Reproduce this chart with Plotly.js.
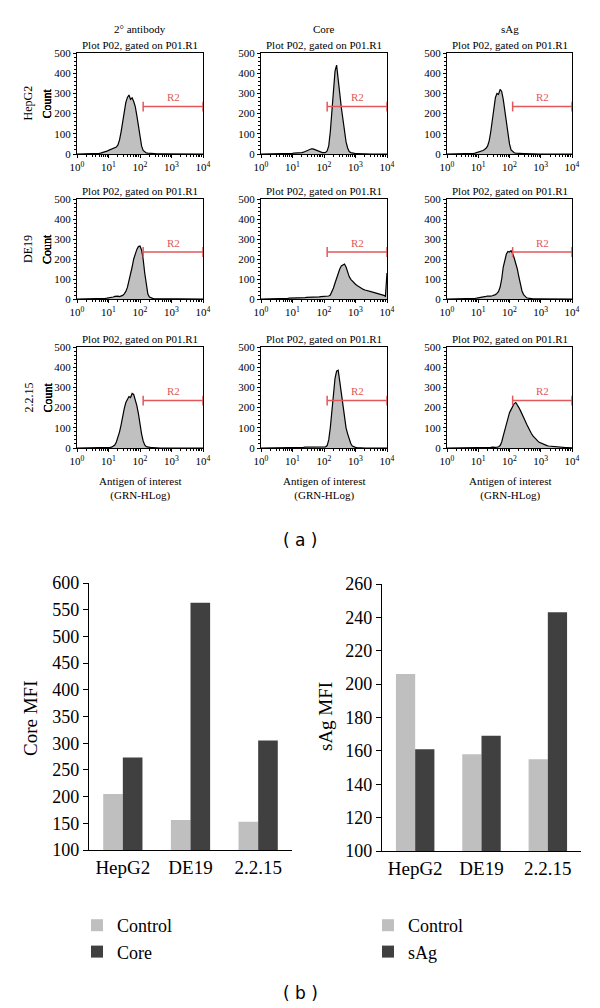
<!DOCTYPE html>
<html><head><meta charset="utf-8">
<script src="https://cdn.plot.ly/plotly-3.0.1.min.js"></script>
<style>html,body{margin:0;padding:0;background:#fff}</style>
</head><body><div id="chart" style="width:600px;height:1008px"></div>
<script>
// ---------- DATA ----------
const cellLines = ['HepG2', 'DE19', '2.2.15'];
const stains = ['2° antibody', 'Core', 'sAg'];
const panelTitle = 'Plot P02, gated on P01.R1';
const xTickVals = [1, 10, 100, 1000, 10000];
const xTickText = ['10<sup>0</sup>', '10<sup>1</sup>', '10<sup>2</sup>', '10<sup>3</sup>', '10<sup>4</sup>'];
// bin positions (log10 of fluorescence)
const histLog = [0,0.05,0.1,0.15,0.2,0.25,0.3,0.35,0.4,0.45,0.5,0.55,0.6,0.65,0.7,0.75,0.8,0.85,0.9,0.95,
 1,1.05,1.1,1.15,1.2,1.25,1.3,1.35,1.4,1.45,1.5,1.55,1.6,1.65,1.7,1.75,1.8,1.85,1.9,1.95,
 2,2.05,2.1,2.15,2.2,2.25,2.3,2.35,2.4,2.45,2.5,2.55,2.6,2.65,2.7,2.75,2.8,2.85,2.9,2.95,
 3,3.05,3.1,3.15,3.2,3.25,3.3,3.35,3.4,3.45,3.5,3.55,3.6,3.65,3.7,3.75,3.8,3.85,3.9,3.95,4];
const hepg2Secondary = [0,0,0,0,0,0,0,0,1,1, 1,1,2,2,3,4,6,8,10,14, 18,22,26,28,30,34,45,70,110,160,
 215,255,280,292,270,278,260,235,190,135, 80,40,18,9,5,4,3,3,2,2, 2,1,1,1,1,1,1,0,0,0,
 0,0,0,0,0,0,0,0,0,0, 0,0,0,0,0,0,0,0,0,0,0];
const hepg2Core = [0,0,0,0,0,0,0,0,0,0, 1,1,1,1,1,2,2,2,3,3, 3,4,4,5,5,6,7,9,12,16,
 20,24,26,25,22,18,14,10,8,7, 7,8,15,40,110,210,310,410,440,380, 300,230,170,110,60,30,12,7,4,3,
 2,2,1,1,1,1,1,0,0,0, 0,0,0,0,0,0,0,0,0,0,0];
const hepg2SAg = [0,0,0,0,0,0,0,0,0,0, 0,1,1,1,1,2,2,3,4,6, 8,10,13,17,22,28,40,65,110,175,
 235,280,300,295,320,310,270,215,150,95, 50,20,10,6,4,3,3,2,2,2, 2,1,1,1,1,1,0,0,0,0,
 0,0,0,0,0,0,0,0,0,0, 0,0,0,0,0,0,0,0,0,0,0];
const de19Secondary = [0,0,0,0,0,0,0,0,0,0, 1,1,1,1,2,2,2,3,3,4, 5,6,8,10,13,15,14,12,14,18,
 26,38,58,88,125,160,200,230,248,262, 265,245,200,130,65,25,10,5,3,2, 2,2,1,1,1,1,1,1,0,0,
 0,0,0,0,0,0,0,0,0,0, 0,0,0,0,0,0,0,0,0,0,0];
const de19Core = [0,0,0,1,1,1,1,1,2,2, 2,2,2,3,3,3,3,3,4,4, 4,5,5,5,6,6,6,7,7,8,
 8,9,9,10,10,10,11,11,12,12, 12,12,13,15,20,35,55,80,105,130, 150,165,172,175,160,130,112,98,88,80,
 74,68,62,56,52,48,45,42,40,38, 36,34,32,30,28,26,25,22,18,14,130];
const de19SAg = [0,0,0,0,0,0,0,0,0,0, 1,1,1,1,1,2,2,3,3,4, 5,6,7,9,11,13,15,14,14,16,
 18,22,28,38,60,100,160,200,225,238, 235,242,228,205,180,150,110,70,40,22, 12,6,4,2,2,1,1,1,0,0,
 0,0,0,0,0,0,0,0,0,0, 0,0,0,0,0,0,0,0,0,0,0];
const c2215Secondary = [0,0,0,0,0,0,0,0,0,0, 0,0,0,0,1,1,1,1,1,2, 2,3,4,8,15,30,50,80,115,160,
 195,225,245,255,250,270,265,240,210,170, 115,70,35,15,7,4,3,2,2,1, 1,1,1,0,0,0,0,0,0,0,
 0,0,0,0,0,0,0,0,0,0, 0,0,0,0,0,0,0,0,0,0,0];
const c2215Core = [0,0,0,0,0,0,0,0,0,0, 0,0,0,0,0,0,1,1,1,1, 1,1,1,2,2,2,3,3,4,4,
 5,5,6,6,7,6,6,5,5,4, 4,6,12,40,100,180,260,345,380,385, 330,270,210,150,100,70,45,22,10,5,
 3,2,1,1,1,0,0,0,0,0, 0,0,0,0,0,0,0,0,0,0,0];
const c2215SAg = [0,0,0,0,0,0,0,0,0,0, 0,0,0,0,0,0,0,0,1,1, 1,1,1,1,1,1,2,2,3,4,
 2,3,4,6,12,30,60,90,120,150, 175,190,205,220,225,215,200,185,165,150, 135,118,100,85,72,60,50,42,35,28,
 24,20,17,14,12,10,9,8,7,6, 5,4,4,3,3,2,2,2,1,1,1];
const histCounts = [hepg2Secondary, hepg2Core, hepg2SAg, de19Secondary, de19Core, de19SAg, c2215Secondary, c2215Core, c2215SAg];
// R2 gate
const gateLow = 126, gateHigh = 10000, gateLevel = 235;
const r2LabelX = 1120, r2LabelY = 282;

// MFI bar charts
const barCategories = ['HepG2', 'DE19', '2.2.15'];
const coreControl = [205, 156, 153];
const coreMFI = [273, 563, 305];
const sagControl = [206, 158, 155];
const sagMFI = [161, 169, 243];

// ---------- LAYOUT HELPERS ----------
const W = 600, H = 1008;
const px = x => x / W;
const py = y => 1 - y / H;
const serif = 'Liberation Serif';
const colPx = [[77, 203], [261, 387], [447, 572]];
const rowPx = [[53, 154], [199, 299], [347, 448]];
const red = '#e2575a';

const traces = [];
const layout = {
  width: W, height: H, margin: {l: 0, r: 0, t: 0, b: 0},
  paper_bgcolor: '#fff', plot_bgcolor: '#fff',
  font: {family: serif, color: '#000'},
  showlegend: true, bargap: 0.42, bargroupgap: 0,
  annotations: []
};
const ann = layout.annotations;
function note(o) {
  ann.push(Object.assign({xref: 'paper', yref: 'paper', xanchor: 'center', yanchor: 'middle', showarrow: false}, o));
}

for (let r = 0; r < 3; r++) {
  for (let c = 0; c < 3; c++) {
    const k = r * 3 + c + 1;
    const xa = 'x' + k, ya = 'y' + k;
    const xs = histLog.map(v => Math.pow(10, v));
    traces.push({type: 'scatter', mode: 'lines', x: xs, y: histCounts[k - 1], xaxis: xa, yaxis: ya,
      fill: 'tozeroy', fillcolor: '#c0c0c0', line: {color: '#000', width: 1.2}, showlegend: false, hoverinfo: 'skip'});
    traces.push({type: 'scatter', mode: 'lines+markers', x: [gateLow, gateHigh], y: [gateLevel, gateLevel],
      xaxis: xa, yaxis: ya, line: {color: red, width: 1.5},
      marker: {symbol: 'line-ns-open', size: 7, line: {color: red, width: 1.5}}, showlegend: false, cliponaxis: false, hoverinfo: 'skip'});
    layout['xaxis' + (k === 1 ? '' : k)] = {
      domain: [px(colPx[c][0]), px(colPx[c][1])], anchor: ya, type: 'log', range: [0, 4],
      tickmode: 'array', tickvals: xTickVals, ticktext: xTickText,
      ticks: 'outside', ticklen: 3, tickcolor: '#000', showline: true, linecolor: '#000', linewidth: 1, mirror: true,
      showgrid: false, zeroline: false, tickfont: {size: 11, family: serif},
      minor: {dtick: 'D1', ticks: 'outside', ticklen: 2, tickcolor: '#000', showgrid: false}
    };
    layout['yaxis' + (k === 1 ? '' : k)] = {
      domain: [py(rowPx[r][1]), py(rowPx[r][0])], anchor: xa, range: [0, 500], dtick: 100,
      ticks: 'outside', ticklen: 3, tickcolor: '#000', showline: true, linecolor: '#000', linewidth: 1, mirror: true,
      showgrid: false, zeroline: false, tickfont: {size: 11, family: serif},
      minor: {dtick: 20, ticks: 'outside', ticklen: 2, tickcolor: '#000', showgrid: false}
    };
    ann.push({xref: xa, yref: ya, x: Math.log10(r2LabelX), y: r2LabelY, text: 'R2', showarrow: false,
      xanchor: 'center', yanchor: 'middle', font: {size: 11, color: red, family: serif}});
    const cx = (colPx[c][0] + colPx[c][1]) / 2;
    note({x: px(cx), y: py(rowPx[r][0] - 8), text: panelTitle, font: {size: 11, family: serif}});
    note({x: px(47), y: py((rowPx[r][0] + rowPx[r][1]) / 2), text: 'Count', textangle: -90, font: {size: 12, family: serif}});
    if (r === 0) {
      note({x: px(cx), y: py(29), text: stains[c], font: {size: 11, family: serif}});
    }
    if (r === 2) {
      note({x: px(cx), y: py(488), text: 'Antigen of interest<br>(GRN-HLog)', font: {size: 11, family: serif}});
    }
  }
  note({x: px(28), y: py((rowPx[r][0] + rowPx[r][1]) / 2), text: cellLines[r], textangle: -90, font: {size: 12, family: serif}});
}

// Bar charts
traces.push({type: 'bar', x: barCategories, y: coreControl, name: 'Control', xaxis: 'x10', yaxis: 'y10', marker: {color: '#bfbfbf'}, legend: 'legend'});
traces.push({type: 'bar', x: barCategories, y: coreMFI, name: 'Core', xaxis: 'x10', yaxis: 'y10', marker: {color: '#404040'}, legend: 'legend'});
traces.push({type: 'bar', x: barCategories, y: sagControl, name: 'Control', xaxis: 'x11', yaxis: 'y11', marker: {color: '#bfbfbf'}, legend: 'legend2'});
traces.push({type: 'bar', x: barCategories, y: sagMFI, name: 'sAg', xaxis: 'x11', yaxis: 'y11', marker: {color: '#404040'}, legend: 'legend2'});

const barX = {showline: true, linecolor: '#000', linewidth: 1.2, ticks: '', showgrid: false, zeroline: false,
  tickfont: {size: 19, family: serif}, fixedrange: true};
const barY = {showline: true, linecolor: '#000', linewidth: 1.2, ticks: 'outside', ticklen: 5, tickcolor: '#000',
  showgrid: false, zeroline: false, tickfont: {size: 18, family: serif}};
layout.xaxis10 = Object.assign({}, barX, {domain: [px(89), px(292)], anchor: 'y10'});
layout.yaxis10 = Object.assign({}, barY, {domain: [py(850), py(583)], anchor: 'x10', range: [100, 600], dtick: 50});
layout.xaxis11 = Object.assign({}, barX, {domain: [px(382), px(581)], anchor: 'y11'});
layout.yaxis11 = Object.assign({}, barY, {domain: [py(851), py(584)], anchor: 'x11', range: [100, 260], dtick: 20});

note({x: px(30), y: py(719), text: 'Core MFI', textangle: -90, font: {size: 19, family: serif}});
note({x: px(325), y: py(717), text: 'sAg MFI', textangle: -90, font: {size: 19, family: serif}});
note({x: 0.5, y: py(540), text: '( a )', font: {size: 17, family: 'DejaVu Sans'}});
note({x: 0.5, y: py(993), text: '( b )', font: {size: 17, family: 'DejaVu Sans'}});

layout.legend = {x: px(77), y: py(907), xanchor: 'left', yanchor: 'top', bgcolor: 'rgba(0,0,0,0)',
  font: {size: 18, family: serif}, itemwidth: 30, tracegroupgap: 0, traceorder: 'normal'};
layout.legend2 = {x: px(368), y: py(907), xanchor: 'left', yanchor: 'top', bgcolor: 'rgba(0,0,0,0)',
  font: {size: 18, family: serif}, itemwidth: 30, tracegroupgap: 0, traceorder: 'normal'};

Plotly.newPlot('chart', traces, layout, {staticPlot: true, displayModeBar: false});
</script></body></html>
